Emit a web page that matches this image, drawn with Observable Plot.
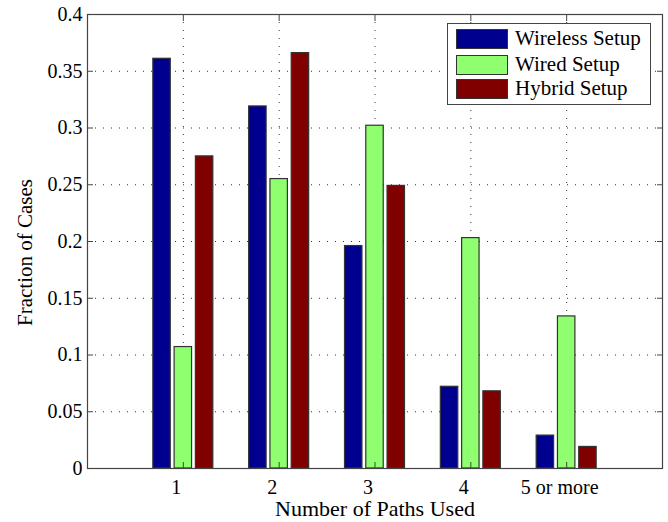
<!DOCTYPE html>
<html>
<head>
<meta charset="utf-8">
<script src="https://cdn.jsdelivr.net/npm/d3@7"></script>
<script src="https://cdn.jsdelivr.net/npm/@observablehq/plot@0.6"></script>
<style>
  body { margin: 0; background: #fff; }
  #wrap { position: relative; width: 668px; height: 522px; font-family: "Liberation Serif", "Times New Roman", serif; }
  .legend { position: absolute; left: 447px; top: 23px; width: 204px; height: 82px; border: 1px solid #444; background: #fff; box-sizing: border-box; }
  .legend .row { position: absolute; left: 8px; height: 21px; display: flex; align-items: center; }
  .legend .sw { width: 52px; height: 20px; border: 1px solid #333; box-sizing: border-box; margin-right: 7px; }
  .legend .lbl { font-size: 21px; line-height: 21px; color: #000; white-space: nowrap; }
</style>
</head>
<body>
<div id="wrap"></div>
<script>
// Number of paths used, per setup
const categories = ["1", "2", "3", "4", "5 or more"];
const series = ["Wireless Setup", "Wired Setup", "Hybrid Setup"];
const wireless = [0.361, 0.319, 0.196, 0.072, 0.029];
const wired = [0.107, 0.255, 0.302, 0.203, 0.134];
const hybrid = [0.275, 0.366, 0.249, 0.068, 0.019];
const colors = ["#00008f", "#8fff6f", "#800000"];
const yTicks = [0, 0.05, 0.1, 0.15, 0.2, 0.25, 0.3, 0.35, 0.4];
const xLabel = "Number of Paths Used";
const yLabel = "Fraction of Cases";

// Grouped bars: each category sits at an integer position, bars offset within the group
const seriesValues = [wireless, wired, hybrid];
const groupOffset = [-0.222, 0, 0.222];
const barWidth = 0.182;
const xPos = categories.map((c, i) => i + 1);
const bars = [];
categories.forEach((c, i) => {
  series.forEach((s, j) => {
    const center = xPos[i] + groupOffset[j];
    bars.push({category: c, series: s, value: seriesValues[j][i], x1: center - barWidth / 2, x2: center + barWidth / 2});
  });
});

const serif = '"Liberation Serif", "Times New Roman", serif';
const fmtY = d => String(+d.toFixed(2));
const grid = {stroke: "#333", strokeOpacity: 1, strokeDasharray: "1,7", strokeWidth: 1};

const chart = Plot.plot({
  width: 668,
  height: 522,
  marginLeft: 87,
  marginRight: 6,
  marginTop: 14,
  marginBottom: 54,
  style: {fontFamily: serif, fontSize: "20px", color: "#000", background: "#fff"},
  x: {domain: [0, 6]},
  y: {domain: [0, 0.4]},
  color: {domain: series, range: colors},
  marks: [
    Plot.gridY(yTicks, grid),
    Plot.gridX(xPos, grid),
    Plot.rect(bars, {x1: "x1", x2: "x2", y1: 0, y2: "value", fill: "series", stroke: "#333", strokeWidth: 1.2}),
    Plot.frame({stroke: "#444", strokeWidth: 1.2}),
    Plot.axisY(yTicks, {anchor: "left", tickSize: -6, tickPadding: 11, tickFormat: fmtY, label: null, stroke: "#444", fontSize: 20, fontFamily: serif, fontVariant: "normal"}),
    Plot.axisY(yTicks, {anchor: "right", tickSize: -6, tickFormat: () => "", label: null, stroke: "#444"}),
    // tick labels (nudged left), then the inward tick marks
    Plot.axisX(xPos, {anchor: "bottom", tickSize: 0, tickPadding: 11, tickFormat: d => categories[d - 1], label: null, fontSize: 20, fontFamily: serif, fontVariant: "normal", dx: -7}),
    Plot.axisX(xPos, {anchor: "bottom", tickSize: -6, tickFormat: () => "", label: null, stroke: "#444"}),
    Plot.axisX(xPos, {anchor: "top", tickSize: -6, tickFormat: () => "", label: null, stroke: "#444"}),
    Plot.text([yLabel], {frameAnchor: "left", dx: -62, dy: 11, rotate: -90, textAnchor: "middle", lineAnchor: "middle", fontSize: 21, fontFamily: serif, fill: "#000"}),
    Plot.text([xLabel], {frameAnchor: "bottom", dy: 40, textAnchor: "middle", lineAnchor: "middle", fontSize: 22, fontFamily: serif, fill: "#000"})
  ]
});

const wrap = document.getElementById("wrap");
wrap.appendChild(chart);

// Legend box inside the upper-right corner of the axes
const legend = document.createElement("div");
legend.className = "legend";
const rowTops = [4, 30, 54];
series.forEach((s, j) => {
  const row = document.createElement("div");
  row.className = "row";
  row.style.top = rowTops[j] + "px";
  const sw = document.createElement("div");
  sw.className = "sw";
  sw.style.background = colors[j];
  const lbl = document.createElement("span");
  lbl.className = "lbl";
  lbl.textContent = s;
  row.appendChild(sw);
  row.appendChild(lbl);
  legend.appendChild(row);
});
wrap.appendChild(legend);
</script>
</body>
</html>
